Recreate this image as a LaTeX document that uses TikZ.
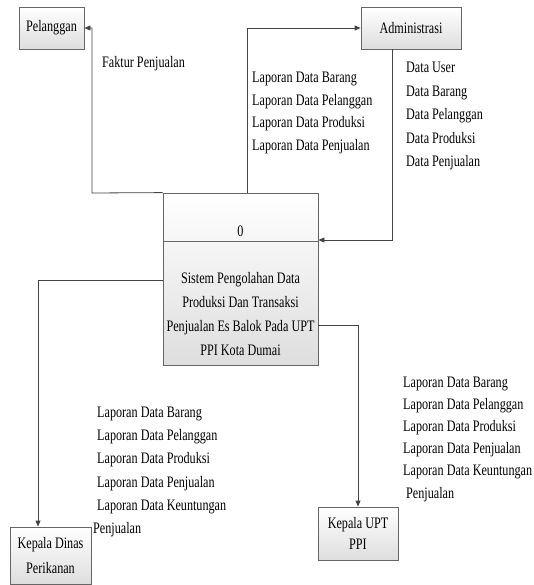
\documentclass[tikz,border=0pt]{standalone}
\usepackage{fontspec}
\setmainfont{Liberation Serif}[FakeStretch=0.76]
\usetikzlibrary{arrows.meta}
\definecolor{ln}{HTML}{444444}
\definecolor{bx}{HTML}{666666}
\begin{document}
\begin{tikzpicture}[x=1pt,y=-1pt,
  ent/.style={draw=bx, line width=0.8pt, top color=white, bottom color=black!13, inner sep=0pt, align=center,
              font=\fontsize{16}{22}\selectfont},
  flow/.style={draw=ln, line width=0.8pt, -{Triangle[length=6pt,width=5pt]}},
  lbl/.style={anchor=west, align=left, inner sep=0pt}]
\useasboundingbox (0,0) rectangle (533,585);

% entities
\node[ent, minimum width=65, minimum height=42] (pel) at (51.5,28) {Pelanggan};
\node[ent, minimum width=100, minimum height=42] (adm) at (411,28) {Administrasi};
\node[ent, minimum width=81, minimum height=57, font=\fontsize{16}{25}\selectfont] (dinas) at (50.5,555.5) {Kepala Dinas\\Perikanan};
\node[ent, minimum width=80, minimum height=53, font=\fontsize{16}{21}\selectfont] (upt) at (358,533.5) {Kepala UPT\\PPI};

% process
\node[ent, minimum width=155, minimum height=172] (proc) at (240.5,279) {};
\draw[draw=bx, line width=0.8pt] (proc.west |- 0,241) -- (proc.east |- 0,241);
\node[inner sep=0pt, font=\fontsize{16}{22}\selectfont] (pnum) at (240.5,231) {0};
\node[inner sep=0pt, align=center, font=\fontsize{16}{24}\selectfont] (ptext) at (240.5,314)
  {Sistem Pengolahan Data\\Produksi Dan Transaksi\\Penjualan Es Balok Pada UPT\\PPI Kota Dumai};

% flows
\draw[flow] (proc.north west) -- (92,193) |- (pel.east);
\draw[flow] (proc.north -| 247,0) |- (adm.west);
\draw[flow] (adm.south -| 392,0) |- (proc.east |- 0,240);
\draw[flow] (proc.west |- 0,280) -| (dinas.north -| 38,0);
\draw[flow] (proc.east |- 0,325) -| (upt.north);

% labels
\node[lbl, font=\fontsize{16}{22}\selectfont] (lf) at (102,64) {Faktur Penjualan};
\node[lbl, font=\fontsize{16}{22.7}\selectfont] (l1) at (252,113)
  {Laporan Data Barang\\Laporan Data Pelanggan\\Laporan Data Produksi\\Laporan Data Penjualan};
\node[lbl, font=\fontsize{16}{23.5}\selectfont] (l2) at (406,116)
  {Data User\\Data Barang\\Data Pelanggan\\Data Produksi\\Data Penjualan};
\node[lbl, font=\fontsize{16}{23.2}\selectfont] (l3) at (97,472)
  {Laporan Data Barang\\Laporan Data Pelanggan\\Laporan Data Produksi\\Laporan Data Penjualan\\Laporan Data Keuntungan\\\hspace*{-4pt}Penjualan};
\node[lbl, font=\fontsize{16}{22.2}\selectfont] (l4) at (403,439)
  {Laporan Data Barang\\Laporan Data Pelanggan\\Laporan Data Produksi\\Laporan Data Penjualan\\Laporan Data Keuntungan\\\hspace*{3pt}Penjualan};
\end{tikzpicture}
\end{document}
